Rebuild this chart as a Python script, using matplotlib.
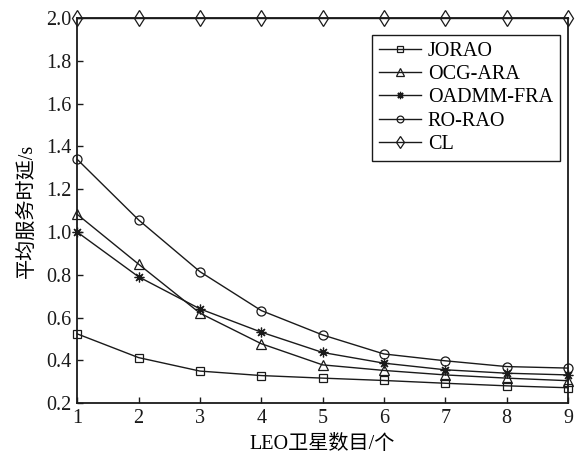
import numpy as np
import matplotlib.pyplot as plt

plt.rcParams['font.family'] = ['Liberation Serif', 'Noto Sans CJK SC']
plt.rcParams['font.size'] = 14.5

# number of LEO satellites
x = [1, 2, 3, 4, 5, 6, 7, 8, 9]

# average service delay (s)
jorao = [0.524, 0.413, 0.350, 0.329, 0.317, 0.306, 0.293, 0.281, 0.272]
ocg_ara = [1.083, 0.850, 0.621, 0.478, 0.379, 0.353, 0.332, 0.317, 0.305]
oadmm_fra = [1.000, 0.791, 0.641, 0.532, 0.437, 0.387, 0.356, 0.340, 0.332]
ro_rao = [1.340, 1.057, 0.815, 0.633, 0.519, 0.430, 0.398, 0.371, 0.364]
cl = [2.0, 2.0, 2.0, 2.0, 2.0, 2.0, 2.0, 2.0, 2.0]

fig = plt.figure(figsize=(5.76, 4.54), dpi=100)
ax = fig.add_axes([0.134, 0.112, 0.852, 0.848])

c = '#1a1a1a'
style = dict(color=c, lw=1.0, mfc='none', mec=c, mew=0.9, clip_on=False)
ax.plot(x, jorao, marker='s', ms=5.5, label='JORAO', **style)
ax.plot(x, ocg_ara, marker='^', ms=7.5, label='OCG-ARA', **style)
ax.plot(x, oadmm_fra, marker=(8, 2, 0), ms=7, label='OADMM-FRA', **style)
ax.plot(x, ro_rao, marker='o', ms=6.5, label='RO-RAO', **style)
ax.plot(x, cl, marker='d', ms=8, label='CL', **style)

ax.set_xlim(1, 9)
ax.set_ylim(0.2, 2.0)
ax.set_xticks(x)
ax.set_yticks(np.arange(0.2, 2.01, 0.2))
ax.yaxis.set_major_formatter(plt.FormatStrFormatter('%.1f'))
ax.tick_params(direction='in', length=4, width=1, colors=c, pad=4)
for s in ax.spines.values():
    s.set_linewidth(1.3)
    s.set_color(c)

ax.set_xlabel('LEO卫星数目/个', labelpad=5)
ax.set_ylabel('平均服务时延/s', labelpad=7)

leg = ax.legend(loc='upper right', bbox_to_anchor=(0.984, 0.956), fancybox=False,
                edgecolor=c, framealpha=1, handlelength=2.1, handletextpad=0.35,
                labelspacing=0.2, borderpad=0.35, borderaxespad=0, markerscale=0.75)
leg.get_frame().set_linewidth(1.0)

fig.savefig('out.png', dpi=100)
